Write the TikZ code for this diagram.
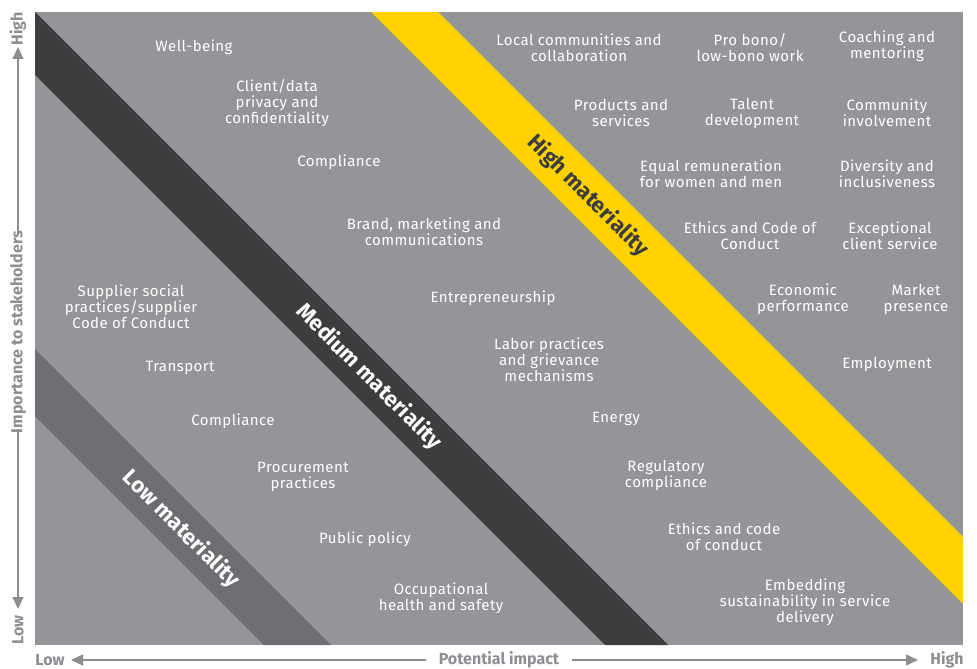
\documentclass[tikz,border=0pt]{standalone}
\usepackage{fontspec}
\setmainfont{Fira Sans}
\usetikzlibrary{arrows.meta}
\definecolor{bggray}{RGB}{147,149,152}
\definecolor{darkband}{RGB}{61,61,61}
\definecolor{lowband}{RGB}{109,110,113}
\definecolor{eyyellow}{RGB}{255,210,0}
\definecolor{axisgray}{RGB}{140,142,145}
\tikzset{
  item/.style={text=white, align=center, inner sep=0pt, font=\fontsize{15}{16}\selectfont\addfontfeatures{LetterSpace=3}},
  bandlabel/.style={rotate=-45, inner sep=0pt, font=\fontsize{22}{24}\selectfont\bfseries},
  axislabel/.style={text=axisgray, inner sep=0pt, font=\fontsize{16}{17}\selectfont\bfseries},
  axisline/.style={draw=axisgray, line width=1.1pt},
  axisarrow/.style={axisline, -{Triangle[length=12pt,width=11pt]}},
}
\begin{document}
\begin{tikzpicture}[x=1pt,y=-1pt]
\useasboundingbox (0,0) rectangle (977,669);
% background field
\fill[bggray] (35,12) rectangle (963,645);
% bands
\fill[eyyellow] (371,12) -- (438,12) -- (963,537) -- (963,604) -- cycle;
\fill[darkband] (35,12) -- (668,645) -- (605,645) -- (35,75) -- cycle;
\fill[lowband] (35,349) -- (331,645) -- (264,645) -- (35,416) -- cycle;
% band labels
\node[bandlabel, text=darkband] (hm) at (588,196) {High materiality};
\node[bandlabel, text=white] (mm) at (369,377) {Medium materiality};
\node[bandlabel, text=white] (lm) at (181,529) {Low materiality};
% items
\node[item] (i1) at (194,47) {Well-being};
\node[item] (i2) at (277,103) {Client/data\\privacy and\\confidentiality};
\node[item] (i3) at (339,162) {Compliance};
\node[item] (i4) at (424,232) {Brand, marketing and\\communications};
\node[item] (i5) at (131,307) {Supplier social\\practices/supplier\\Code of Conduct};
\node[item] (i6) at (493,298) {Entrepreneurship};
\node[item] (i7) at (180,368) {Transport};
\node[item] (i8) at (549,360) {Labor practices\\and grievance\\mechanisms};
\node[item] (i9) at (233,421) {Compliance};
\node[item] (i10) at (616,419) {Energy};
\node[item] (i11) at (303,477) {Procurement\\practices};
\node[item] (i12) at (666,475) {Regulatory\\compliance};
\node[item] (i13) at (365,539) {Public policy};
\node[item] (i14) at (724,537) {Ethics and code\\of conduct};
\node[item] (i15) at (441,598) {Occupational\\health and safety};
\node[item] (i16) at (805,602) {Embedding\\sustainability in service\\delivery};
\node[item] (i17) at (579,48) {Local communities and\\collaboration};
\node[item] (i18) at (750,48) {Pro bono/\\low-bono work};
\node[item] (i19) at (887,46) {Coaching and\\mentoring};
\node[item] (i20) at (621,113) {Products and\\services};
\node[item] (i21) at (752,113) {Talent\\development};
\node[item] (i22) at (887,113) {Community\\involvement};
\node[item] (i23) at (711,174) {Equal remuneration\\for women and men};
\node[item] (i24) at (887,174) {Diversity and\\inclusiveness};
\node[item] (i25) at (750,236) {Ethics and Code of\\Conduct};
\node[item] (i26) at (890,236) {Exceptional\\client service};
\node[item] (i27) at (803,299) {Economic\\performance};
\node[item] (i28) at (916,299) {Market\\presence};
\node[item] (i29) at (887,364) {Employment};
% vertical axis
\node[axislabel, rotate=90] (vhigh) at (18,29) {High};
\node[axislabel, rotate=90] (vimp) at (18,332) {Importance to stakeholders};
\node[axislabel, rotate=90] (vlow) at (18,630) {Low};
\coordinate (vtop) at (18,47);
\coordinate (vbot) at (18,609);
\draw[axisarrow] ([yshift=-4pt]vimp.east) -- (vtop);
\draw[axisarrow] ([yshift=4pt]vimp.west) -- (vbot);
% horizontal axis
\node[axislabel] (hlow) at (50,660) {Low};
\node[axislabel] (himp) at (499,660) {Potential impact};
\node[axislabel] (hhigh) at (947,660) {High};
\coordinate (hleft) at (71,660);
\coordinate (hright) at (918,660);
\draw[axisarrow] ([xshift=-13pt]himp.west) -- (hleft);
\draw[axisarrow] ([xshift=13pt]himp.east) -- (hright);
\end{tikzpicture}
\end{document}
